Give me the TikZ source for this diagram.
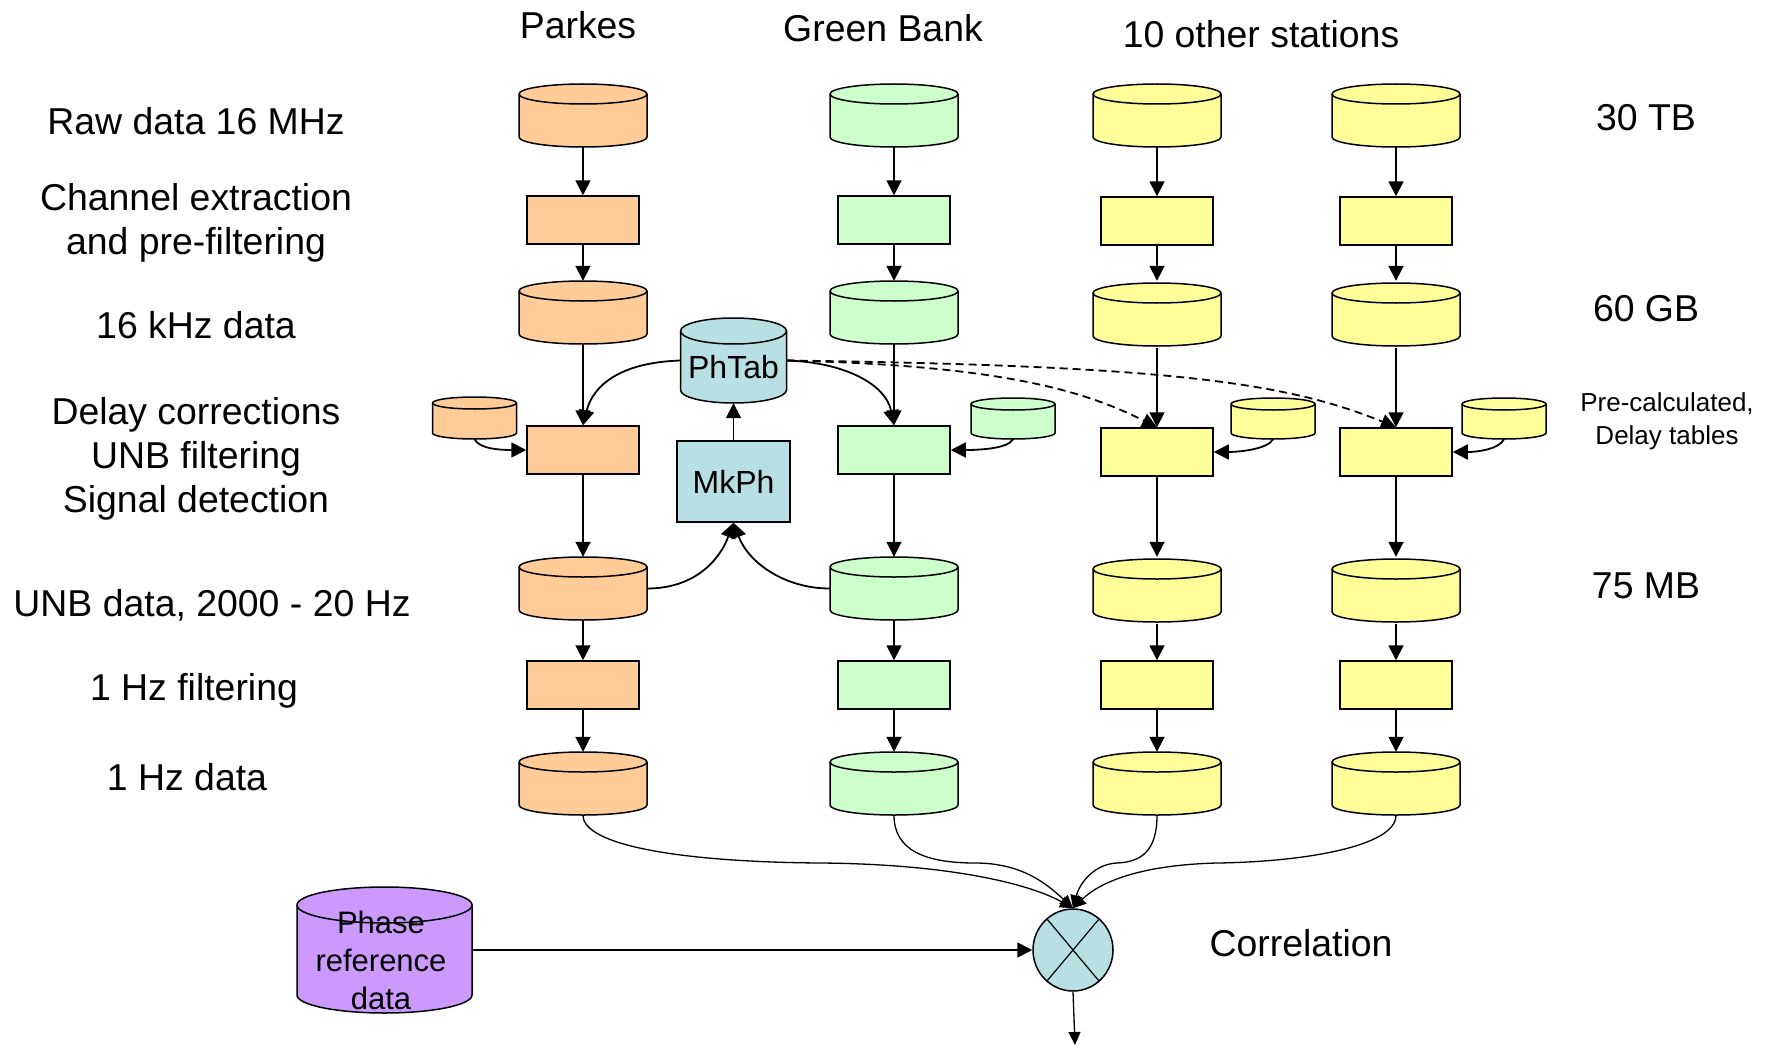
\documentclass[tikz,border=0pt]{standalone}
\usepackage{fontspec}
\setmainfont{Liberation Sans}
\usetikzlibrary{arrows.meta,shapes.geometric}

\definecolor{parkes}{HTML}{FFCC99}
\definecolor{greenbank}{HTML}{CCFFCC}
\definecolor{other}{HTML}{FFFF99}
\definecolor{phase}{HTML}{B8DFE3}
\definecolor{phref}{HTML}{CC99FF}

\tikzset{
  outl/.style={line width=1.5pt},
  stepbox/.style={draw, line width=1.5pt, minimum width=112pt, minimum height=48pt, inner sep=0pt},
  flow/.style={line width=1.8pt, -{Triangle[length=15pt,width=15pt]}},
  dflow/.style={flow, dash pattern=on 8pt off 5pt},
  thinflow/.style={line width=1.3pt, -{Triangle[length=13pt,width=12pt]}},
  lab/.style={font=\fontsize{37.4}{44}\selectfont, align=center, inner sep=0pt},
  smalllab/.style={font=\fontsize{26}{33}\selectfont, align=center, inner sep=0pt},
  inlab/.style={font=\fontsize{32}{38}\selectfont, align=center, inner sep=0pt},
}

% drum: name, centre x, top y, bottom y (downward pixels), half width, rim half height, fill
\newcommand{\drum}[7]{%
  \pgfmathsetmacro\drL{#2-#5}\pgfmathsetmacro\drR{#2+#5}%
  \pgfmathsetmacro\drT{-(#3)-#6}\pgfmathsetmacro\drB{-(#4)+#6}%
  \filldraw[outl, fill=#7] (\drL,\drT) -- (\drL,\drB)
    arc[start angle=180,end angle=360,x radius=#5,y radius=#6] -- (\drR,\drT)
    arc[start angle=0,end angle=180,x radius=#5,y radius=#6] -- cycle;
  \draw[outl] (\drL,\drT) arc[start angle=180,end angle=360,x radius=#5,y radius=#6];
  \node[inner sep=0pt, minimum width={2*#5}, minimum height={#4-#3}] (#1) at (#2,{-(#3+#4)/2}) {};
}

\begin{document}
\begin{tikzpicture}[x=1pt,y=1pt]
\useasboundingbox[fill=white] (0,0) rectangle (1775,-1046);

% --- station columns ---
\foreach \n/\x/\c/\o in {P/583/parkes/0, G/894/greenbank/0, Y/1157/other/2, Z/1396/other/2}{
  \drum{r\n}{\x}{84}{147}{64}{10}{\c}
  \node[stepbox, fill=\c] (b\n) at (\x,{-220-\o/2}) {};
  \drum{k\n}{\x}{281+\o}{344+\o}{64}{10}{\c}
  \node[stepbox, fill=\c] (d\n) at (\x,{-450-\o}) {};
  \drum{u\n}{\x}{557+\o}{620+\o}{64}{10}{\c}
  \node[stepbox, fill=\c] (f\n) at (\x,-685) {};
  \drum{h\n}{\x}{752}{815}{64}{10}{\c}
  \draw[flow] (r\n.south) -- (b\n.north);
  \draw[flow] (b\n.south) -- (k\n.north);
  \draw[flow] (k\n.south) -- (d\n.north);
  \draw[flow] (d\n.south) -- (u\n.north);
  \draw[flow] (u\n.south) -- (f\n.north);
  \draw[flow] (f\n.south) -- (h\n.north);
}

% --- delay tables ---
\drum{sP}{474.5}{397}{439}{42}{6}{parkes}
\drum{sG}{1013}{398}{439}{42}{6}{greenbank}
\drum{sY}{1273}{398}{439}{42}{6}{other}
\drum{sZ}{1504}{398}{439}{42}{6}{other}
\draw[flow] (sP.south) .. controls +(5,-10) and +(-25,0) .. (dP.west);
\draw[flow] (sG.south) .. controls +(-5,-10) and +(25,0) .. (dG.east);
\draw[flow] (sY.south) .. controls +(-5,-10) and +(25,0) .. (dY.east);
\draw[flow] (sZ.south) .. controls +(-5,-10) and +(25,0) .. (dZ.east);

% --- phase table ---
\drum{pt}{733.5}{318}{403}{53}{13}{phase}
\node[inlab] (pttext) at (733.5,-367) {PhTab};
\node[draw, outl, fill=phase, minimum width=113pt, minimum height=81pt, inner sep=0pt, font=\fontsize{32}{38}\selectfont] (mk) at (733.5,-481.5) {MkPh};
\draw[flow] (mk.north) -- (pt.south);
\draw[flow] (uP.east) .. controls +(45,0) and +(-15,-40) .. (mk.south);
\draw[flow] (uG.west) .. controls +(-45,0) and +(15,-40) .. (mk.south);
\draw[flow] (pt.west) .. controls +(-60,-2) and +(10,40) .. (dP.north);
\draw[flow] (pt.east) .. controls +(60,-2) and +(-8,40) .. (dG.north);
\draw[dflow] (pt.east) .. controls +(220,-5) and +(-70,35) .. (dY.north);
\draw[dflow] (pt.east) .. controls +(380,-5) and +(-110,45) .. (dZ.north);

% --- correlation ---
\node[ellipse, draw, outl, fill=phase, minimum width=80pt, minimum height=82pt, inner sep=0pt] (corr) at (1073,-950) {};
\draw[line width=1.2pt] (corr.130) -- (corr.-50) (corr.50) -- (corr.-130);
\draw[thinflow] (hP.south) .. controls +(0,-30) and (680,-862) .. (820,-863)
  .. controls (950,-864) and (1030,-884) .. (corr.north);
\draw[thinflow] (hG.south) .. controls +(0,-35) and (925,-863) .. (975,-863)
  .. controls (1020,-863) and (1045,-882) .. (corr.north);
\draw[thinflow] (hY.south) .. controls +(0,-35) and (1142,-862) .. (1117,-863)
  .. controls (1095,-864) and (1080,-882) .. (corr.north);
\draw[thinflow] (hZ.south) .. controls +(0,-32) and (1300,-862) .. (1217,-863)
  .. controls (1140,-865) and (1100,-882) .. (corr.north);
\coordinate (out) at (1075,-1045);
\draw[thinflow] (corr.south) -- (out);

\drum{ph}{384.5}{887}{1013}{87.5}{18}{phref}
\node[font=\fontsize{31}{38}\selectfont, align=center, inner sep=0pt] (phtext) at (381,-960) {Phase\\reference\\data};
\draw[flow] (ph.east) -- (corr.west);

% --- labels ---
\node[lab] (tP) at (578,-25) {Parkes};
\node[lab] (tG) at (883,-28) {Green Bank};
\node[lab] (tO) at (1261,-34) {10 other stations};
\node[lab] (lraw) at (196,-121) {Raw data 16 MHz};
\node[lab] (lchan) at (196,-223) {Channel extraction\\and pre-filtering};
\node[lab] (lkhz) at (196,-325) {16 kHz data};
\node[lab] (ldelay) at (196,-459) {Delay corrections\\UNB filtering\\Signal detection};
\node[lab] (lunb) at (212,-605) {UNB data, 2000 - 20 Hz};
\node[lab] (lfilt) at (194,-691) {1 Hz filtering};
\node[lab] (lhz) at (187,-777) {1 Hz data};
\node[lab] (r30) at (1646,-118) {30 TB};
\node[lab] (r60) at (1646,-309) {60 GB};
\node[lab] (r75) at (1646,-586) {75 MB};
\node[smalllab] (rpre) at (1667,-421) {Pre-calculated,\\Delay tables};
\node[lab] (lcorr) at (1301,-943) {Correlation};
\end{tikzpicture}
\end{document}
